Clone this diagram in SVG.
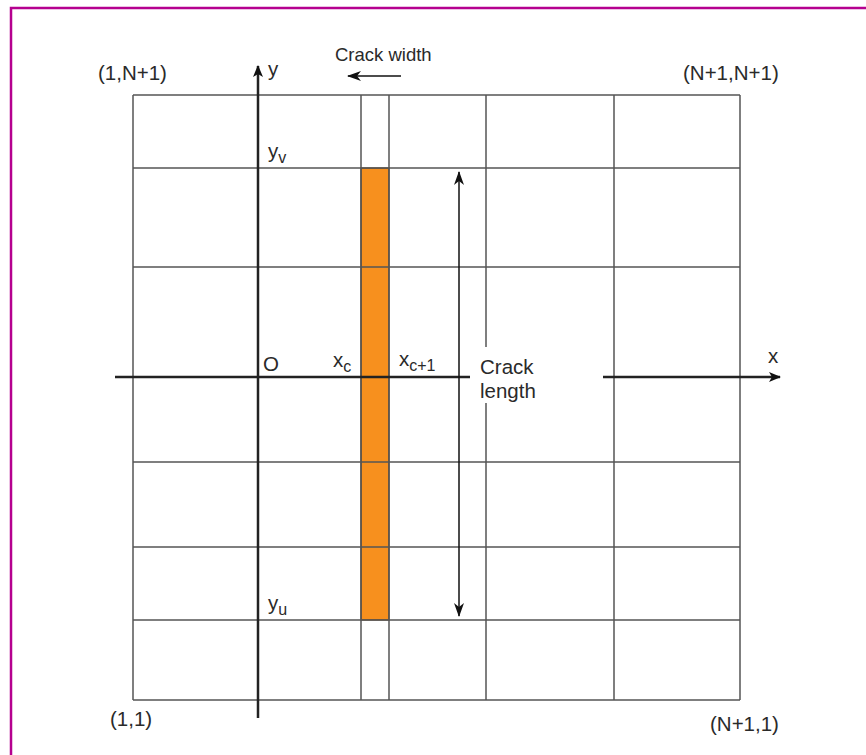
<svg xmlns="http://www.w3.org/2000/svg" width="866" height="755" viewBox="0 0 866 755">
<defs>
<style>
.grid{stroke:#555;stroke-width:1.5;fill:none}
.axis{stroke:#222;stroke-width:2.5;fill:none}
.arr{stroke:#111;stroke-width:1.5;fill:none}
.t{font-family:"Liberation Sans",Arial,sans-serif;font-size:20.5px;fill:#2a2a2a}
.s{font-size:16px}
</style>
<marker id="ah" viewBox="0 0 12 10" refX="11" refY="5" markerWidth="12" markerHeight="10" markerUnits="userSpaceOnUse" orient="auto">
<path d="M0,0 L12,5 L0,10 L3,5 Z" fill="#111"/>
</marker>
<marker id="ahs" viewBox="0 0 14 10" refX="13" refY="5" markerWidth="14" markerHeight="10" markerUnits="userSpaceOnUse" orient="auto">
<path d="M0,0 L14,5 L0,10 L4,5 Z" fill="#111"/>
</marker>
</defs>
<rect width="866" height="755" fill="#fff"/>
<g id="frame">
<path d="M11,755 V8 H866" stroke="#B5008F" stroke-width="2.5" fill="none"/>
</g>
<g id="crack">
<rect x="361" y="168" width="28" height="452" fill="#F7901E" stroke="#5a3a1a" stroke-width="1.2"/>
</g>
<g id="grid">
<path class="grid" d="M133,95 H740 M133,168 H740 M133,267 H740 M133,462 H740 M133,547 H740 M133,620 H740 M133,700 H740"/>
<path class="grid" d="M133,95 V700 M361,95 V700 M389,95 V700 M614,95 V700 M740,95 V700 M486,95 V347 M486,403 V700"/>
</g>
<g id="connectors">
<path class="axis" d="M258,718 V66" marker-end="url(#ah)"/>
<path class="axis" d="M115,377 H470"/>
<path class="axis" d="M603,377 H780" marker-end="url(#ah)"/>
<path class="arr" d="M459,370 V172" marker-end="url(#ahs)"/>
<path class="arr" d="M459,380 V616" marker-end="url(#ahs)"/>
<path class="arr" d="M459,370 V380"/>
<path class="arr" d="M401,76 H348" marker-end="url(#ahs)"/>
</g>
<g id="labels">
<text class="t" x="98" y="80">(1,N+1)</text>
<text class="t" x="683" y="80">(N+1,N+1)</text>
<text class="t" x="110" y="726">(1,1)</text>
<text class="t" x="710" y="731">(N+1,1)</text>
<text class="t" x="335" y="61" style="font-size:18.5px">Crack width</text>
<text class="t" x="268" y="76">y</text>
<text class="t" x="268" y="158">y<tspan class="s" dy="5">v</tspan></text>
<text class="t" x="268" y="610">y<tspan class="s" dy="5">u</tspan></text>
<text class="t" x="263" y="371">O</text>
<text class="t" x="333" y="367">x<tspan class="s" dy="5">c</tspan></text>
<text class="t" x="399" y="366">x<tspan class="s" dy="5">c+1</tspan></text>
<text class="t" x="480" y="374">Crack</text>
<text class="t" x="480" y="398">length</text>
<text class="t" x="768" y="363">x</text>
</g>
</svg>
